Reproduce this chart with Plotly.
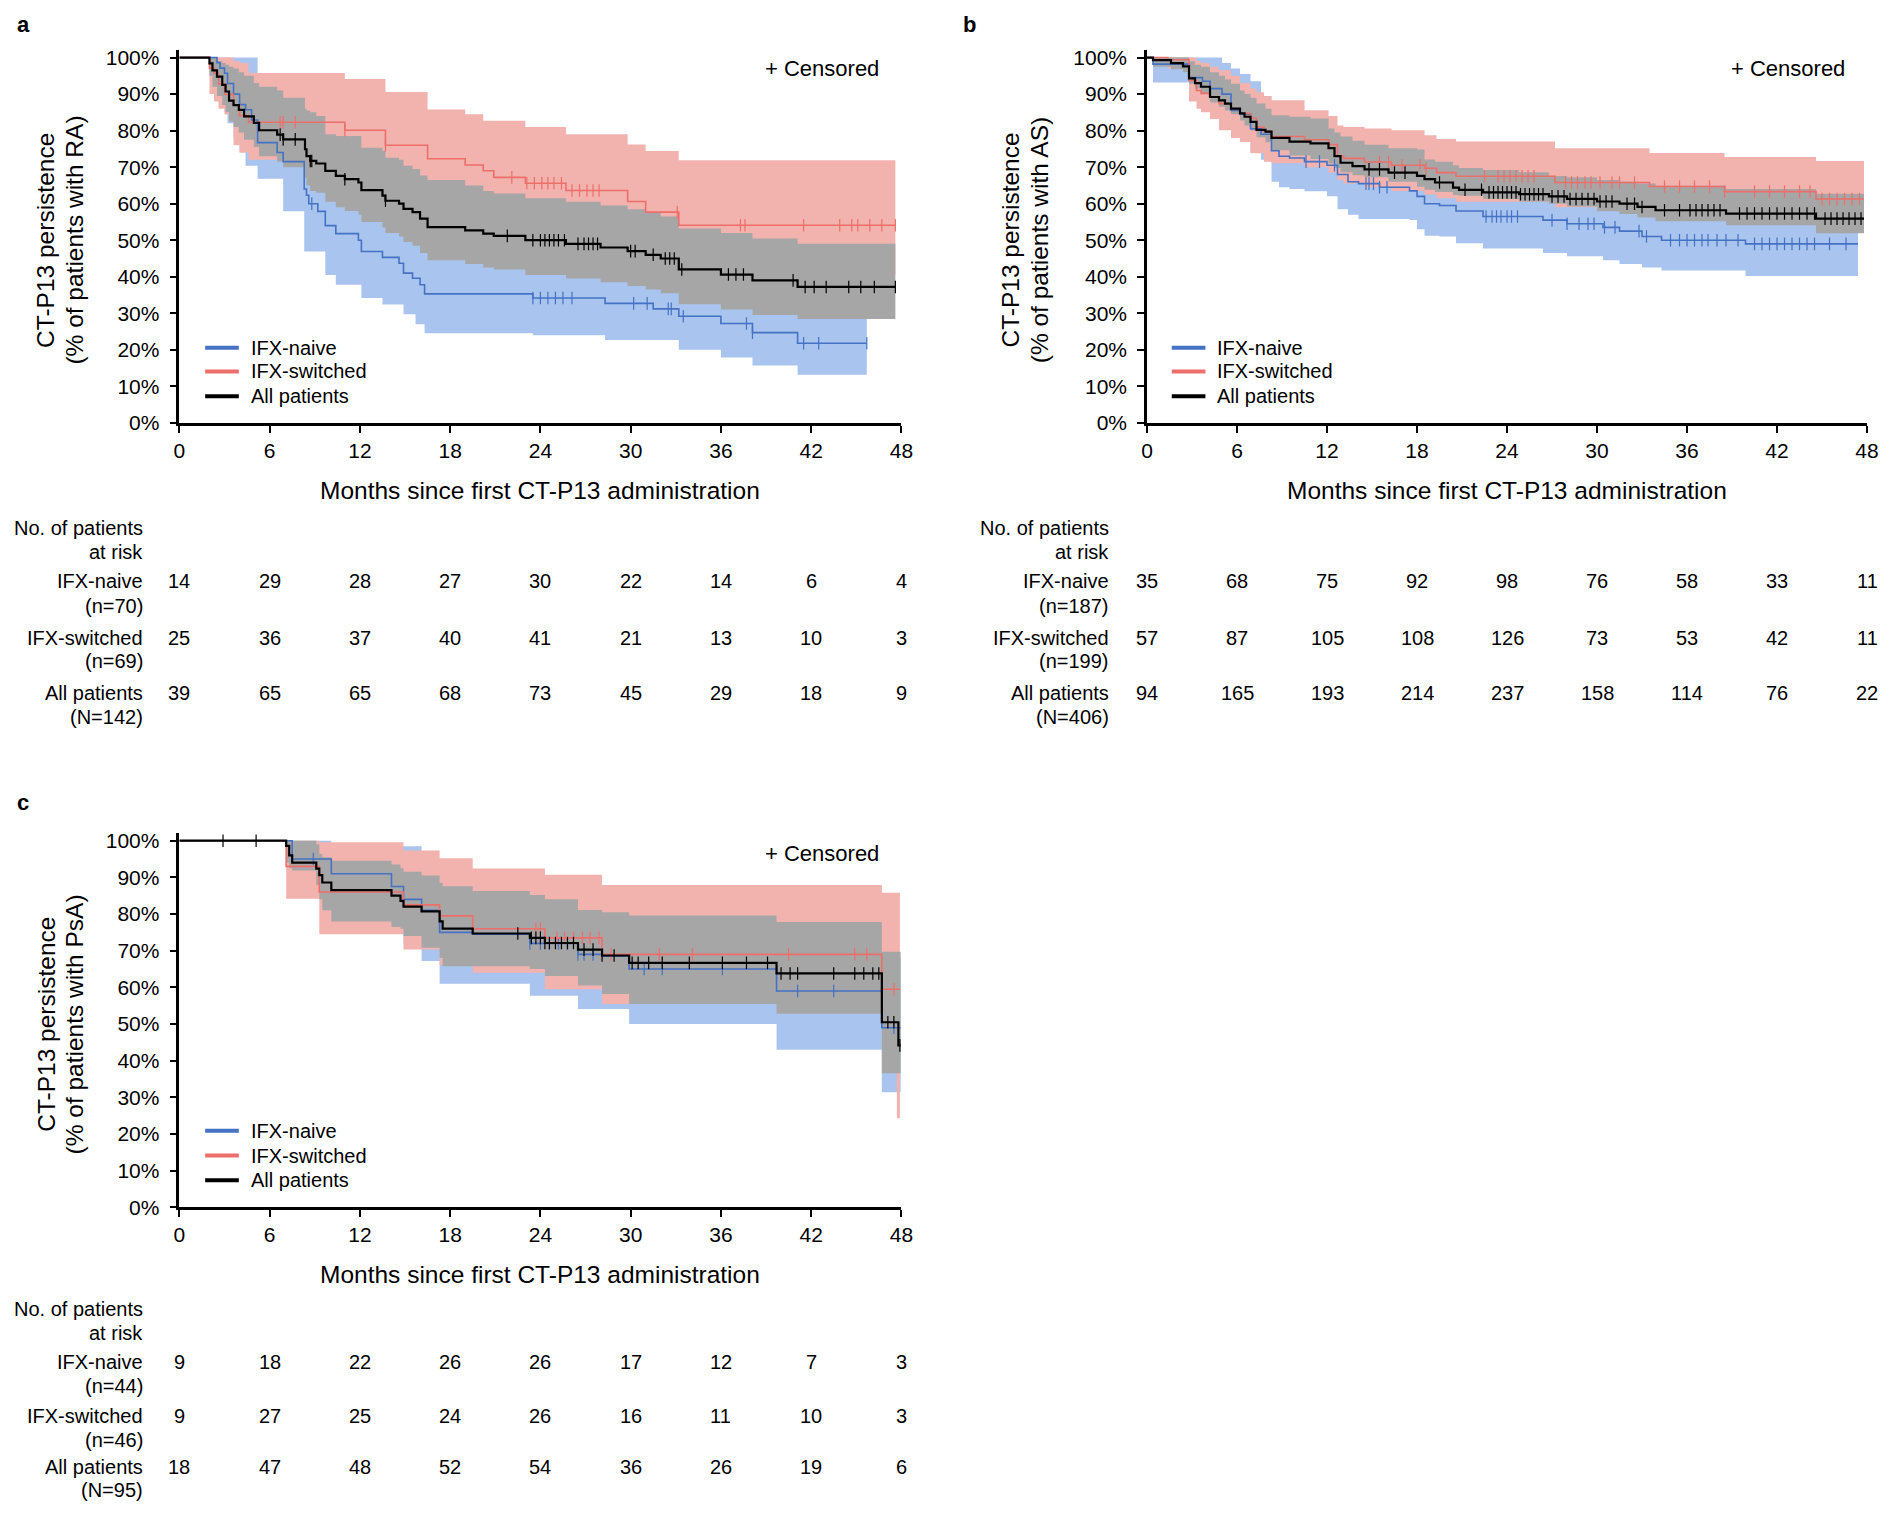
import numpy as np
import plotly.graph_objects as go

W, H = 1889, 1524
OFF = 8                      # page body margin of the html page
FIG_W, FIG_H = W - 2 * OFF, H - 2 * OFF
FONT = "Liberation Sans, Arial, sans-serif"

BLUE = "#4472C4"
RED = "#EE6E69"
BLACK = "#000000"
BLUE_BAND = "#A9C4EE"
RED_BAND = "#F2B2AE"
GRAY_BAND = "#A6A6A6"

# ---------------- panel a (RA) ----------------
a_naive_t = [0, 2.5, 2.7, 3.0, 3.2, 3.6, 4.0, 4.4, 4.8, 5.2, 6.5, 6.9, 8.3, 8.45, 8.6, 9.2, 9.7, 10.4, 11.9, 12.1,
             13.5, 14.6, 14.9, 15.5, 15.7, 16.0, 16.3, 23.5, 28.3, 31.5, 33.2, 36.0, 38.1, 41.1]
a_naive_s = [100, 98.6, 97.1, 95.7, 92.9, 90.0, 87.1, 85.7, 82.9, 76.7, 74.0, 71.5, 64.0, 62.3, 60.0, 57.9, 54.0,
             51.8, 50.0, 46.9, 45.3, 43.7, 41.0, 39.6, 39.6, 37.8, 35.3, 34.2, 32.7, 31.2, 29.2, 27.2, 24.7, 21.8]
a_naive_lo = [100, 92, 89, 85, 82, 78, 74, 70.4, 70.4, 66.8, 66.8, 57.9, 46.9, 46.9, 46.9, 46.9, 40.5, 37.8, 37.8,
              34.2, 32.4, 32.4, 29.7, 29.7, 27.0, 27.0, 24.5, 24.0, 22.7, 22.7, 20.0, 17.9, 15.7, 13.2]
a_naive_hi = [100, 100, 100, 100, 100, 100, 100, 100, 100, 88, 86, 84, 78, 76, 72, 70, 67, 64.5, 62.5, 59.5,
              58, 57, 54, 52, 51, 50, 47, 46, 45, 43, 41, 39, 36.5, 33]
a_naive_end = 45.7
a_naive_cens = [8.8, 23.5, 24.0, 24.5, 25.0, 25.5, 26.1, 30.2, 31.1, 32.5, 32.7, 33.5, 37.7, 38.1, 41.5, 42.5, 45.7]

a_switch_t = [0, 2.0, 2.3, 2.6, 3.0, 3.6, 4.0, 4.6, 11.0, 13.7, 16.5, 19.0, 20.2, 20.9, 23.0, 25.7, 29.8, 31.0, 33.2]
a_switch_s = [100, 97.1, 95.7, 92.8, 89.9, 87.0, 84.1, 82.3, 80.1, 76.0, 72.3, 70.6, 69.0, 67.2, 65.6, 63.6, 60.6,
              57.7, 54.1]
a_switch_lo = [100, 90, 88, 86, 84.4, 76, 74, 72, 68.5, 64, 60, 58, 56.5, 54.5, 53, 51, 47.5, 44.5, 40.5]
a_switch_hi = [100, 100, 100, 100, 100, 99, 98.5, 95.8, 94.1, 90.6, 85.8, 84.5, 82.7, 82.7, 81.0, 79.0, 76.2,
               74.4, 71.9]
a_switch_end = 47.6
a_switch_cens = [6.7, 6.9, 7.7, 11.0, 13.7, 22.1, 23.1, 23.6, 24.1, 24.5, 24.9, 25.4, 26.1, 26.6, 27.1, 27.5, 27.9,
                 33.1, 37.3, 37.6, 41.5, 43.9, 44.7, 45.1, 45.9, 46.7, 47.6]

a_all_t = [0, 2.0, 2.2, 2.5, 2.85, 3.07, 3.3, 3.6, 3.95, 4.3, 4.95, 5.3, 6.5, 6.9, 8.35, 8.45, 8.7, 9.1, 9.7, 10.4,
           11.0, 11.9, 12.1, 13.5, 13.7, 14.6, 14.9, 15.5, 16.0, 16.5, 19.0, 20.2, 20.9, 23.0, 25.7, 28.0, 29.8,
           31.0, 32.0, 33.2, 36.0, 38.1, 41.1]
a_all_s = [100, 98.4, 96.5, 94.8, 92.5, 90.7, 88.2, 87.0, 85.7, 83.9, 82.1, 80.1, 78.9, 77.6, 74.9, 73.0, 71.7, 71.0,
           69.0, 67.6, 66.7, 65.8, 63.7, 62.2, 60.8, 60.0, 58.6, 57.7, 55.9, 53.6, 52.7, 51.8, 51.2, 50.0, 49.0,
           48.0, 47.0, 46.0, 45.0, 42.0, 40.6, 39.0, 37.2]
a_all_lo = [100, 95, 92, 89.5, 87, 85, 82.5, 81, 79.5, 77.5, 75.5, 73, 71.5, 70, 67, 65, 63.5, 63, 60.5, 59,
            58, 57, 55, 53.5, 52, 51, 49.5, 48.5, 46.5, 44.5, 43.5, 42.5, 42, 40.5, 39.5, 38.5, 37.5, 36.5, 35.5,
            32.5, 31, 29.5, 28.4]
a_all_hi = [100, 100, 100, 99, 98.5, 98, 97.5, 97, 96, 95, 93, 92, 91, 89, 86, 85.5, 85, 84, 79, 78.5,
            78.5, 78.5, 75.3, 74.5, 72.6, 72, 70.4, 69.5, 67.7, 66.5, 65, 63.5, 62.8, 61.5, 60.5, 59.5, 58.5, 57.5,
            56.5, 53.2, 52, 50.5, 49]
a_all_end = 47.6
a_all_cens = [6.7, 6.9, 7.7, 8.7, 8.8, 11.0, 13.7, 21.8, 23.5, 24.0, 24.3, 24.6, 24.9, 25.2, 25.6, 26.5, 26.9,
              27.2, 27.5, 27.8, 30.0, 30.3, 31.5, 32.3, 32.6, 32.9, 33.4, 36.5, 37.0, 37.5, 40.8, 41.6, 42.2,
              43.0, 44.5, 45.3, 46.2, 47.6]

# ---------------- panel b (AS) ----------------
b_naive_t = [0, 0.4, 2.8, 3.7, 4.2, 5.0, 5.6, 6.2, 6.9, 7.6, 8.3, 8.8, 9.5, 10.5, 12.0, 12.7, 13.4, 14.1, 15.5,
             17.5, 18.0, 18.5, 19.5, 20.6, 22.4, 26.4, 28.0, 30.4, 31.5, 33.0, 34.3, 39.9]
b_naive_s = [100, 98.2, 94.5, 93.5, 91.5, 90.0, 85.5, 84.5, 80.5, 79.0, 74.5, 73.0, 72.5, 71.5, 70.5, 68.0, 66.0,
             65.5, 64.5, 63.5, 62.0, 60.0, 59.5, 58.0, 56.5, 55.5, 54.5, 53.5, 52.5, 51.0, 50.0, 49.0]
b_naive_lo = [100, 93.2, 89.5, 88, 85.5, 83.5, 78.5, 77.5, 74, 72, 66, 64.5, 64, 63.4, 62, 58.5, 57, 55.8,
              55.8, 55.5, 53, 51.2, 51, 49.2, 47.7, 46.5, 45.6, 44.5, 43.5, 42.5, 41.7, 40.2]
b_naive_hi = [100, 100, 100, 100, 100, 98.5, 97, 95.5, 93.5, 89.5, 84, 81, 80.5, 79.5, 78.5, 76, 74, 73.5, 72.5,
              72, 70.5, 68.5, 68, 66.5, 65, 64, 63, 62, 61.5, 60, 59, 58]
b_naive_end = 47.4
b_naive_cens = [10.6, 11.5, 12.5, 14.6, 14.8, 15.1, 15.5, 16.0, 22.6, 23.0, 23.3, 23.6, 24.0, 24.3, 24.7, 27.0,
                28.0, 28.8, 29.4, 29.8, 30.5, 31.2, 32.8, 33.3, 34.9, 35.5, 36.0, 36.5, 37.0, 37.4, 38.0, 38.6,
                39.4, 40.5, 41.0, 41.5, 42.0, 42.5, 43.0, 43.5, 44.0, 44.5, 45.5, 46.6]

b_switch_t = [0, 1.4, 2.8, 3.3, 3.6, 4.2, 4.8, 5.6, 6.2, 6.9, 7.3, 7.8, 8.3, 10.5, 12.1, 12.7, 13.1, 14.5, 16.3,
              18.5, 19.3, 20.6, 27.2, 33.5, 38.5, 44.6]
b_switch_s = [100, 99.4, 93.7, 91.0, 90.2, 89.2, 87.4, 86.0, 84.7, 83.4, 81.0, 79.8, 78.4, 77.5, 76.2, 73.0, 72.4,
              71.4, 70.5, 69.7, 68.5, 67.5, 65.8, 64.7, 63.3, 61.3]
b_switch_lo = [100, 97, 88, 86, 85, 83.2, 80.1, 78, 76.9, 73.8, 73.8, 71.5, 71.1, 70, 68.5, 66.5, 65.5, 64.5, 63.5,
               62.5, 61.5, 60.5, 59, 57.5, 56, 53.5]
b_switch_hi = [100, 100, 100, 99, 98.5, 97.5, 96.5, 95, 93, 91.5, 90.5, 89.5, 88.3, 85.6, 84, 81.4, 81, 80.6, 80.1,
               78.7, 77.7, 77, 75.2, 73.9, 72.8, 71.7]
b_switch_end = 47.8
b_switch_cens = [15.5, 16.1, 17.0, 18.2, 18.6, 22.5, 23.4, 23.8, 24.2, 24.6, 25.0, 25.4, 25.8, 27.9, 28.3, 28.7,
                 29.2, 29.6, 30.2, 31.0, 31.5, 32.5, 34.5, 35.5, 36.5, 37.5, 38.5, 40.5, 41.5, 42.5, 43.5, 44.2,
                 45.0, 45.5, 46.0, 46.5, 47.0, 47.5]

b_all_t = [0, 0.4, 1.6, 2.4, 2.8, 3.2, 3.6, 4.2, 4.8, 5.2, 5.6, 6.2, 6.5, 6.9, 7.3, 7.9, 8.3, 9.5, 10.9, 12.1,
           12.5, 12.9, 13.7, 14.5, 16.1, 18.0, 18.5, 19.2, 20.4, 20.8, 22.4, 24.8, 26.8, 28.0, 30.0, 31.5, 32.7,
           33.9, 38.6, 44.6]
b_all_s = [100, 99.3, 98.5, 97.6, 94.3, 93.0, 92.0, 89.2, 88.3, 87.4, 86.0, 84.7, 83.8, 82.4, 80.2, 79.7, 78.0,
           77.0, 76.5, 75.2, 73.0, 71.2, 70.3, 69.4, 68.5, 67.6, 66.7, 65.8, 64.4, 63.8, 63.1, 62.6, 62.0, 61.3,
           60.6, 60.0, 59.1, 58.2, 57.3, 55.9]
b_all_lo = [100, 97.5, 96.8, 96, 92.8, 91.5, 90.3, 87.7, 86.5, 85.5, 84.5, 82.8, 81.4, 80, 78.2, 76.8, 74.6, 73.2,
            72.2, 71, 69.8, 68.6, 67.8, 67.2, 66, 64.6, 63.8, 63.2, 62.4, 62.2, 61.3, 60.6, 60, 59.2, 57.9, 57.2,
            56.2, 55.2, 54.1, 51.9]
b_all_hi = [100, 100, 100, 100, 99, 98, 97.5, 96, 95, 94, 92.8, 91, 90, 89, 87.4, 86, 84.2, 83.8, 83.3, 80.6,
            79.5, 78.4, 77.2, 76.1, 75.2, 74.8, 72.1, 71.5, 70.5, 69.8, 69.2, 68.6, 67.6, 67.2, 66.5, 66.0, 65.5,
            64.9, 64.0, 62.7]
b_all_end = 47.8
b_all_cens = [14.8, 15.5, 16.5, 17.2, 19.5, 21.2, 22.3, 22.8, 23.1, 23.4, 23.7, 24.0, 24.3, 24.6, 24.9, 25.2,
              25.5, 25.8, 26.1, 26.4, 27.0, 27.4, 27.8, 28.2, 28.6, 29.0, 29.4, 29.8, 30.2, 30.6, 31.0, 32.0,
              32.5, 33.0, 34.5, 35.5, 36.2, 36.6, 37.0, 37.4, 37.8, 38.2, 39.5, 40.0, 40.5, 41.0, 41.5, 42.0,
              42.5, 43.0, 43.5, 44.0, 44.5, 45.2, 45.6, 46.0, 46.4, 46.8, 47.2, 47.6]

# ---------------- panel c (PsA) ----------------
c_naive_t = [0, 7.5, 10.1, 14.1, 14.9, 16.1, 17.3, 19.5, 23.3, 26.5, 28.1, 29.9, 39.7, 46.7]
c_naive_s = [100, 95.0, 91.0, 87.5, 84.0, 81.0, 75.0, 74.5, 72.0, 69.0, 68.5, 65.0, 59.0, 49.0]
c_naive_lo = [100, 86, 81, 76, 72, 67.2, 61, 61, 57.7, 54.1, 54.1, 50, 43, 31.4]
c_naive_hi = [100, 100, 99, 98.5, 98.5, 95, 90, 89.5, 87.5, 85, 84.5, 82, 77, 68]
c_naive_end = 47.95
c_naive_cens = [8.9, 23.3, 24.0, 24.6, 25.2, 25.8, 26.5, 26.9, 27.5, 30.9, 32.1, 36.1, 41.1, 43.5, 47.5]

c_switch_t = [0, 7.1, 9.3, 14.9, 17.3, 19.5, 24.3, 28.1, 46.7, 47.7]
c_switch_s = [100, 93.0, 86.0, 82.5, 79.5, 76.0, 73.5, 69.0, 59.5, 59.5]
c_switch_lo = [100, 84.2, 74.5, 70.3, 66.1, 64.0, 59.5, 55.5, 52.0, 24.3]
c_switch_hi = [100, 100, 99.6, 97.3, 95.2, 92.4, 90.7, 87.9, 85.8, 85.8]
c_switch_end = 47.9
c_switch_cens = [23.7, 24.0, 25.1, 25.6, 26.2, 26.8, 27.3, 27.9, 28.7, 31.9, 34.1, 40.5, 44.9, 45.7, 47.5]

c_all_t = [0, 7.1, 7.3, 7.5, 9.1, 9.3, 9.5, 10.1, 14.1, 14.7, 14.9, 16.1, 17.3, 17.5, 19.5, 23.3, 24.3, 26.5,
           28.1, 29.9, 39.7, 46.7, 47.8]
c_all_s = [100, 98.6, 96.0, 94.0, 92.4, 90.6, 88.6, 86.5, 85.0, 83.6, 82.0, 80.7, 78.0, 76.0, 74.7, 73.5, 72.1,
           70.3, 68.7, 66.7, 63.8, 50.5, 44.2]
c_all_lo = [100, 94, 92.5, 91.9, 87.9, 84, 81, 78, 76.5, 76, 74, 70.8, 68, 65.8, 65.8, 65, 63.1, 60.5, 58.2,
            55.5, 52.8, 36.6, 36.6]
c_all_hi = [100, 100, 100, 100, 99, 96.4, 95.5, 94.5, 93.5, 92.5, 91.5, 90.5, 88.5, 87.6, 86.3, 85.2, 84, 81.1,
            80.5, 79.6, 77.8, 69.7, 69.7]
c_all_end = 47.95
c_all_cens = [2.9, 5.1, 22.5, 23.4, 23.7, 24.0, 24.3, 24.6, 25.0, 25.4, 25.8, 26.2, 26.9, 27.5, 28.1, 28.9, 30.1,
              30.5, 31.2, 32.1, 33.9, 36.1, 37.7, 39.1, 40.0, 40.6, 41.1, 43.5, 44.9, 45.5, 46.1, 46.5, 47.1,
              47.5, 47.9]

# ---------------- numbers at risk ----------------
risk_months = [0, 6, 12, 18, 24, 30, 36, 42, 48]
a_risk_naive = [14, 29, 28, 27, 30, 22, 14, 6, 4]
a_risk_switch = [25, 36, 37, 40, 41, 21, 13, 10, 3]
a_risk_all = [39, 65, 65, 68, 73, 45, 29, 18, 9]
b_risk_naive = [35, 68, 75, 92, 98, 76, 58, 33, 11]
b_risk_switch = [57, 87, 105, 108, 126, 73, 53, 42, 11]
b_risk_all = [94, 165, 193, 214, 237, 158, 114, 76, 22]
c_risk_naive = [9, 18, 22, 26, 26, 17, 12, 7, 3]
c_risk_switch = [9, 27, 25, 24, 26, 16, 11, 10, 3]
c_risk_all = [18, 47, 48, 52, 54, 36, 26, 19, 6]

a_n = ["(n=70)", "(n=69)", "(N=142)"]
b_n = ["(n=187)", "(n=199)", "(N=406)"]
c_n = ["(n=44)", "(n=46)", "(N=95)"]
group_names = ["IFX-naive", "IFX-switched", "All patients"]
y_titles = ["RA", "AS", "PsA"]
panel_letters = ["a", "b", "c"]
pct_ticks = list(range(0, 101, 10))


def px_x(p):
    return (p - OFF) / FIG_W


def px_y(p):
    return 1 - (p - OFF) / FIG_H


def step_xy(t, v, end):
    return list(t) + [end], list(v) + [v[-1]]


def add_band(fig, t, lo, hi, end, color, xa, ya):
    x, y = step_xy(t, lo, end)
    fig.add_trace(go.Scatter(x=x, y=y, mode="lines", line=dict(width=0, shape="hv"),
                             xaxis=xa, yaxis=ya, hoverinfo="skip", showlegend=False))
    x, y = step_xy(t, hi, end)
    fig.add_trace(go.Scatter(x=x, y=y, mode="lines", line=dict(width=0, shape="hv"),
                             fill="tonexty", fillcolor=color,
                             xaxis=xa, yaxis=ya, hoverinfo="skip", showlegend=False))


def add_curve(fig, t, s, end, cens, color, width, xa, ya):
    x, y = step_xy(t, s, end)
    fig.add_trace(go.Scatter(x=x, y=y, mode="lines", line=dict(color=color, width=width, shape="hv"),
                             xaxis=xa, yaxis=ya, showlegend=False))
    idx = np.searchsorted(np.array(t), np.array(cens), side="right") - 1
    yc = np.array(s)[idx]
    fig.add_trace(go.Scatter(x=cens, y=yc, mode="markers",
                             marker=dict(symbol="line-ns", size=9, line=dict(width=1.2, color=color)),
                             xaxis=xa, yaxis=ya, showlegend=False))


def txt(text, x, y, size, xanchor="center", xref="paper", angle=0):
    return dict(text=text, xref=xref, yref="paper", x=x, y=y, xanchor=xanchor, yanchor="middle",
                textangle=angle, showarrow=False, font=dict(size=size, color="black", family=FONT))


panels = [
    dict(xa="x", ya="y", xdom=(175, 904), ydom=(423, 54),
         naive=(a_naive_t, a_naive_s, a_naive_lo, a_naive_hi, a_naive_end, a_naive_cens),
         switch=(a_switch_t, a_switch_s, a_switch_lo, a_switch_hi, a_switch_end, a_switch_cens),
         all=(a_all_t, a_all_s, a_all_lo, a_all_hi, a_all_end, a_all_cens),
         risk=(a_risk_naive, a_risk_switch, a_risk_all), n=a_n,
         letter_xy=(9, 21), label_right=140, ytitle_x=(40, 69), xtitle_y=491,
         censored=(883, 65), legend_x=201, legend_y=(347, 371, 396),
         table_y=(529, 553, 583, 608, 640, 664, 696, 720)),
    dict(xa="x2", ya="y2", xdom=(1152, 1879), ydom=(423, 54),
         naive=(b_naive_t, b_naive_s, b_naive_lo, b_naive_hi, b_naive_end, b_naive_cens),
         switch=(b_switch_t, b_switch_s, b_switch_lo, b_switch_hi, b_switch_end, b_switch_cens),
         all=(b_all_t, b_all_s, b_all_lo, b_all_hi, b_all_end, b_all_cens),
         risk=(b_risk_naive, b_risk_switch, b_risk_all), n=b_n,
         letter_xy=(964, 21), label_right=1116, ytitle_x=(1014, 1043), xtitle_y=491,
         censored=(1859, 65), legend_x=1177, legend_y=(347, 371, 396),
         table_y=(529, 553, 583, 608, 640, 664, 696, 720)),
    dict(xa="x3", ya="y3", xdom=(175, 904), ydom=(1215.5, 845),
         naive=(c_naive_t, c_naive_s, c_naive_lo, c_naive_hi, c_naive_end, c_naive_cens),
         switch=(c_switch_t, c_switch_s, c_switch_lo, c_switch_hi, c_switch_end, c_switch_cens),
         all=(c_all_t, c_all_s, c_all_lo, c_all_hi, c_all_end, c_all_cens),
         risk=(c_risk_naive, c_risk_switch, c_risk_all), n=c_n,
         letter_xy=(9, 806), label_right=140, ytitle_x=(40, 69), xtitle_y=1283,
         censored=(883, 858), legend_x=201, legend_y=(1138, 1163, 1188),
         table_y=(1318, 1342, 1372, 1396, 1426, 1450, 1478, 1501)),
]

fig = go.Figure()
annotations = []
shapes = []
layout_axes = {}

for k, p in enumerate(panels):
    xa, ya = p["xa"], p["ya"]
    # confidence bands: naive, switched, all (all on top)
    for key, band in (("naive", BLUE_BAND), ("switch", RED_BAND), ("all", GRAY_BAND)):
        t, s, lo, hi, end, cens = p[key]
        add_band(fig, t, lo, hi, end, band, xa, ya)
    for key, col, lw in (("naive", BLUE, 1.6), ("switch", RED, 1.6), ("all", BLACK, 2.2)):
        t, s, lo, hi, end, cens = p[key]
        add_curve(fig, t, s, end, cens, col, lw, xa, ya)

    # axes
    y0px, y100px = p["ydom"]
    unit = (y0px - y100px) / 100.0
    ytop_px = y100px - 2 * unit
    suffix = "" if k == 0 else str(k + 1)
    layout_axes["xaxis" + suffix] = dict(
        domain=[px_x(p["xdom"][0]), px_x(p["xdom"][1])], range=[0, 48], anchor=ya,
        tickmode="array", tickvals=risk_months, ticktext=[str(m) for m in risk_months],
        showline=True, linecolor="black", linewidth=2.5,
        ticks="outside", ticklen=7, tickwidth=2, tickcolor="black", showgrid=False, zeroline=False,
        tickfont=dict(size=21, color="black", family=FONT))
    layout_axes["yaxis" + suffix] = dict(
        domain=[px_y(y0px), px_y(ytop_px)], range=[0, 102], anchor=xa,
        tickmode="array", tickvals=pct_ticks, ticktext=[f"{v}%" for v in pct_ticks],
        showline=True, linecolor="black", linewidth=2.5, ticklabelstandoff=6,
        ticks="outside", ticklen=7, tickwidth=2, tickcolor="black", showgrid=False, zeroline=False,
        tickfont=dict(size=21, color="black", family=FONT))

    lx, ly = p["letter_xy"]
    annotations.append(txt("<b>" + panel_letters[k] + "</b>", px_x(lx), px_y(ly), 22, xanchor="left"))
    ymid = px_y((y0px + y100px) / 2)
    annotations.append(txt("CT-P13 persistence", px_x(p["ytitle_x"][0]), ymid, 24.5, angle=-90))
    annotations.append(txt("(% of patients with " + y_titles[k] + ")", px_x(p["ytitle_x"][1]), ymid, 24.5,
                           angle=-90))
    annotations.append(txt("Months since first CT-P13 administration",
                           px_x((p["xdom"][0] + p["xdom"][1]) / 2), px_y(p["xtitle_y"]), 24.5))
    cx, cy = p["censored"]
    annotations.append(txt("+ Censored", px_x(cx), px_y(cy), 22, xanchor="right"))

    # legend
    for j, (name, col) in enumerate(zip(group_names, (BLUE, RED, BLACK))):
        yy = px_y(p["legend_y"][j])
        shapes.append(dict(type="line", xref="paper", yref="paper", x0=px_x(p["legend_x"]),
                           x1=px_x(p["legend_x"] + 34), y0=yy, y1=yy, line=dict(color=col, width=4)))
        annotations.append(txt(name, px_x(p["legend_x"] + 44), yy, 20, xanchor="left"))

    # number-at-risk table
    ty = p["table_y"]
    lab_x = px_x(p["label_right"])
    annotations.append(txt("No. of patients", lab_x, px_y(ty[0]), 20, xanchor="right"))
    annotations.append(txt("at risk", lab_x, px_y(ty[1]), 20, xanchor="right"))
    for j in range(3):
        y1 = ty[2 + 2 * j]
        y2 = ty[3 + 2 * j]
        annotations.append(txt(group_names[j], lab_x, px_y(y1), 20, xanchor="right"))
        annotations.append(txt(p["n"][j], lab_x, px_y(y2), 20, xanchor="right"))
        for m, v in zip(risk_months, p["risk"][j]):
            annotations.append(txt(str(v), m, px_y(y1), 20, xref=xa))

fig.update_layout(
    width=FIG_W, height=FIG_H,
    margin=dict(l=0, r=0, t=0, b=0),
    paper_bgcolor="white", plot_bgcolor="white",
    font=dict(family=FONT, color="black"),
    showlegend=False,
    annotations=annotations,
    shapes=shapes,
    **layout_axes,
)

fig.write_html("out.html")
